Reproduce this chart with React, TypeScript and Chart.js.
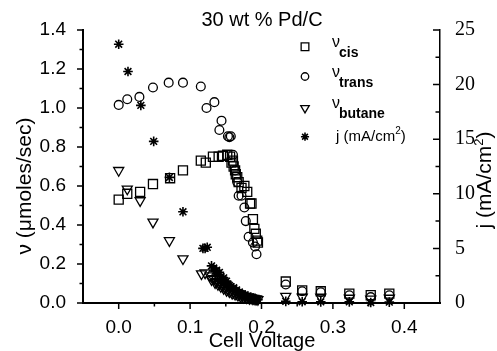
import { useEffect, useRef } from 'react';
import { Chart, registerables } from 'chart.js';
import { drawPoint } from 'chart.js/helpers';

Chart.register(...registerables);

// ---------- text ----------
const chartTitle = '30 wt % Pd/C';
const xAxisTitle = 'Cell Voltage';
const yAxisTitle = 'ν (μmoles/sec)';
const y1AxisTitleMain = 'j (mA/cm';
const y1AxisTitleSup = '2';
const y1AxisTitleEnd = ')';

// ---------- ticks ----------
const xTicks = [0, 0.1, 0.2, 0.3, 0.4];
const xMinorTicks = [0.05, 0.15, 0.25, 0.35];
const yTicks = [0, 0.2, 0.4, 0.6, 0.8, 1.0, 1.2, 1.4];
const yMinorTicks = [0.1, 0.3, 0.5, 0.7, 0.9, 1.1, 1.3];
const jTicks = [0, 5, 10, 15, 20, 25];
const jMinorTicks = [2.5, 7.5, 12.5, 17.5, 22.5];

// ---------- data ----------
const cisVoltage = [0.000, 0.012, 0.030, 0.048, 0.072, 0.090, 0.115, 0.122, 0.132, 0.140, 0.146, 0.152, 0.156, 0.158, 0.160, 0.161, 0.163, 0.164, 0.166, 0.168, 0.172, 0.176, 0.180, 0.184, 0.186, 0.188, 0.190, 0.192, 0.194, 0.195, 0.234, 0.257, 0.283, 0.323, 0.353, 0.379];
const cisRate = [0.53, 0.56, 0.57, 0.61, 0.64, 0.68, 0.73, 0.72, 0.75, 0.75, 0.755, 0.76, 0.75, 0.72, 0.73, 0.70, 0.68, 0.66, 0.645, 0.62, 0.59, 0.60, 0.57, 0.51, 0.51, 0.43, 0.38, 0.355, 0.32, 0.31, 0.11, 0.065, 0.06, 0.048, 0.04, 0.048];

const transVoltage = [0.000, 0.012, 0.029, 0.048, 0.070, 0.090, 0.115, 0.123, 0.134, 0.144, 0.141, 0.153, 0.155, 0.157, 0.160, 0.163, 0.166, 0.168, 0.172, 0.176, 0.178, 0.182, 0.188, 0.191, 0.193, 0.234, 0.257, 0.283, 0.323, 0.353, 0.379];
const transRate = [1.016, 1.045, 1.057, 1.105, 1.13, 1.13, 1.11, 1.00, 1.03, 0.935, 0.887, 0.855, 0.85, 0.855, 0.76, 0.68, 0.62, 0.55, 0.55, 0.49, 0.42, 0.34, 0.31, 0.29, 0.25, 0.095, 0.06, 0.055, 0.04, 0.03, 0.04];

const butaneVoltage = [0.000, 0.012, 0.030, 0.048, 0.071, 0.090, 0.116, 0.121, 0.128, 0.130, 0.133, 0.135, 0.137, 0.139, 0.141, 0.143, 0.145, 0.147, 0.149, 0.151, 0.153, 0.155, 0.157, 0.159, 0.161, 0.163, 0.165, 0.167, 0.169, 0.171, 0.173, 0.175, 0.177, 0.179, 0.181, 0.183, 0.185, 0.187, 0.189, 0.191, 0.193, 0.195, 0.234, 0.257, 0.283, 0.323, 0.353, 0.379];
const butaneRate = [0.68, 0.585, 0.525, 0.415, 0.32, 0.227, 0.15, 0.155, 0.14, 0.12, 0.125, 0.105, 0.11, 0.095, 0.10, 0.085, 0.09, 0.075, 0.08, 0.065, 0.07, 0.058, 0.062, 0.05, 0.055, 0.045, 0.048, 0.04, 0.042, 0.035, 0.038, 0.03, 0.033, 0.027, 0.03, 0.024, 0.027, 0.022, 0.024, 0.02, 0.021, 0.018, 0.035, 0.03, 0.03, 0.025, 0.02, 0.025];

const currentVoltage = [0.000, 0.013, 0.031, 0.049, 0.071, 0.090, 0.118, 0.121, 0.124, 0.130, 0.133, 0.135, 0.137, 0.139, 0.141, 0.143, 0.145, 0.147, 0.149, 0.151, 0.153, 0.155, 0.157, 0.159, 0.161, 0.163, 0.165, 0.167, 0.169, 0.171, 0.173, 0.175, 0.177, 0.179, 0.181, 0.183, 0.185, 0.187, 0.189, 0.191, 0.193, 0.195, 0.234, 0.257, 0.283, 0.323, 0.353, 0.379];
const currentDensity = [23.7, 21.2, 18.1, 14.8, 11.5, 8.35, 5.0, 5.0, 5.1, 3.4, 3.2, 2.9, 3.0, 2.6, 2.8, 2.4, 2.2, 2.3, 1.9, 2.0, 1.7, 1.6, 1.5, 1.3, 1.4, 1.1, 1.2, 0.95, 1.0, 0.85, 0.8, 0.7, 0.75, 0.6, 0.55, 0.5, 0.55, 0.45, 0.4, 0.42, 0.35, 0.3, 0.15, 0.12, 0.1, 0.1, 0.05, 0.08];

const SANS = "'Liberation Sans', Arial, Helvetica, sans-serif";
const SERIF = "'Liberation Serif', 'Times New Roman', serif";

const markers = [
  { pointStyle: 'rect', radius: 6.4, rotation: 0, width: 1.3 },
  { pointStyle: 'circle', radius: 4.4, rotation: 0, width: 1.3 },
  { pointStyle: 'triangle', radius: 5.8, rotation: 180, width: 1.3 },
  { pointStyle: 'star', radius: 4.8, rotation: 0, width: 1.6 },
];

const legendSubs = ['cis', 'trans', 'butane'];

const toPoints = (xs: number[], ys: number[]) => xs.map((x, i) => ({ x, y: ys[i] }));

const overlayPlugin = {
  id: 'overlay',
  afterDraw(chart: any) {
    const ctx: CanvasRenderingContext2D = chart.ctx;
    const xs = chart.scales.x;
    const ys = chart.scales.y;
    const js = chart.scales.y1;
    const area = chart.chartArea;
    ctx.save();
    ctx.strokeStyle = '#000';
    ctx.fillStyle = '#000';
    ctx.lineWidth = 1.5;
    ctx.beginPath();
    xTicks.forEach((v) => {
      const p = xs.getPixelForValue(v);
      ctx.moveTo(p, area.bottom); ctx.lineTo(p, area.bottom + 6);
    });
    xMinorTicks.forEach((v) => {
      const p = xs.getPixelForValue(v);
      ctx.moveTo(p, area.bottom); ctx.lineTo(p, area.bottom + 3.5);
    });
    yTicks.forEach((v) => {
      const p = ys.getPixelForValue(v);
      ctx.moveTo(area.left, p); ctx.lineTo(area.left - 6, p);
    });
    yMinorTicks.forEach((v) => {
      const p = ys.getPixelForValue(v);
      ctx.moveTo(area.left, p); ctx.lineTo(area.left - 3.5, p);
    });
    jTicks.forEach((v) => {
      const p = js.getPixelForValue(v);
      ctx.moveTo(area.right, p); ctx.lineTo(area.right - 7, p);
    });
    jMinorTicks.forEach((v) => {
      const p = js.getPixelForValue(v);
      ctx.moveTo(area.right, p); ctx.lineTo(area.right - 4.5, p);
    });
    ctx.stroke();

    // title
    ctx.textAlign = 'center';
    ctx.textBaseline = 'alphabetic';
    ctx.font = `20px ${SANS}`;
    ctx.fillText(chartTitle, 262, 26);

    // x axis title
    ctx.fillText(xAxisTitle, 262, 347);

    // left axis title
    ctx.save();
    ctx.translate(25, 186);
    ctx.rotate(-Math.PI / 2);
    ctx.font = `21px ${SANS}`;
    ctx.textBaseline = 'middle';
    ctx.fillText(yAxisTitle, 0, 0);
    ctx.restore();

    // right axis title with superscript
    ctx.save();
    ctx.translate(485, 180);
    ctx.rotate(-Math.PI / 2);
    ctx.textBaseline = 'middle';
    ctx.textAlign = 'left';
    ctx.font = `21px ${SANS}`;
    const wMain = ctx.measureText(y1AxisTitleMain).width;
    ctx.font = `13px ${SANS}`;
    const wSup = ctx.measureText(y1AxisTitleSup).width;
    ctx.font = `21px ${SANS}`;
    const wEnd = ctx.measureText(y1AxisTitleEnd).width;
    const total = wMain + wSup + wEnd;
    let cx = -total / 2;
    ctx.fillText(y1AxisTitleMain, cx, 0);
    cx += wMain;
    ctx.font = `13px ${SANS}`;
    ctx.fillText(y1AxisTitleSup, cx, -6);
    cx += wSup;
    ctx.font = `21px ${SANS}`;
    ctx.fillText(y1AxisTitleEnd, cx, 0);
    ctx.restore();

    // legend
    const legendRows = [46.7, 76.5, 108, 136.7];
    const markerX = 305;
    const textX = 332;
    chart.data.datasets.forEach((_ds: any, i: number) => {
      const yRow = legendRows[i];
      ctx.save();
      ctx.strokeStyle = '#000';
      ctx.fillStyle = 'rgba(0,0,0,0)';
      ctx.lineWidth = markers[i].width;
      drawPoint(ctx, { pointStyle: markers[i].pointStyle as any, radius: markers[i].radius * 0.85, rotation: markers[i].rotation, borderWidth: markers[i].width }, markerX, yRow);
      ctx.restore();
      ctx.fillStyle = '#000';
      ctx.textAlign = 'left';
      if (i < 3) {
        ctx.textBaseline = 'alphabetic';
        ctx.font = `16px ${SANS}`;
        ctx.fillText('ν', textX, yRow);
        const wNu = ctx.measureText('ν').width;
        ctx.font = `bold 14px ${SANS}`;
        ctx.fillText(legendSubs[i], textX + wNu - 1, yRow + 10);
      } else {
        ctx.textBaseline = 'middle';
        ctx.font = `15px ${SANS}`;
        const a = 'j (mA/cm';
        ctx.fillText(a, textX + 4, yRow);
        const wa = ctx.measureText(a).width;
        ctx.font = `10px ${SANS}`;
        ctx.fillText('2', textX + 4 + wa, yRow - 5);
        const w2 = ctx.measureText('2').width;
        ctx.font = `15px ${SANS}`;
        ctx.fillText(')', textX + 4 + wa + w2, yRow);
      }
    });
    ctx.restore();
  },
};

export default function App() {
  const canvasRef = useRef<HTMLCanvasElement | null>(null);

  useEffect(() => {
    if (!canvasRef.current) return;
    const common = {
      showLine: false,
      borderColor: '#000',
      backgroundColor: 'rgba(0,0,0,0)',
      pointBorderColor: '#000',
      pointBackgroundColor: 'rgba(0,0,0,0)',
      clip: false as const,
    };
    const chart = new Chart(canvasRef.current, {
      type: 'scatter',
      data: {
        datasets: [
          { ...common, label: 'cis', data: toPoints(cisVoltage, cisRate), yAxisID: 'y', pointStyle: 'rect', pointRadius: markers[0].radius, pointBorderWidth: markers[0].width },
          { ...common, label: 'trans', data: toPoints(transVoltage, transRate), yAxisID: 'y', pointStyle: 'circle', pointRadius: markers[1].radius, pointBorderWidth: markers[1].width },
          { ...common, label: 'butane', data: toPoints(butaneVoltage, butaneRate), yAxisID: 'y', pointStyle: 'triangle', pointRadius: markers[2].radius, pointRotation: 180, pointBorderWidth: markers[2].width },
          { ...common, label: 'j', data: toPoints(currentVoltage, currentDensity), yAxisID: 'y1', pointStyle: 'star', pointRadius: markers[3].radius, pointBorderWidth: markers[3].width },
        ] as any,
      },
      options: {
        responsive: false,
        maintainAspectRatio: false,
        animation: false,
        events: [],
        layout: { padding: { top: 30, left: 0, right: 0, bottom: 0 } },
        plugins: {
          legend: { display: false },
          title: { display: false },
          tooltip: { enabled: false },
        },
        scales: {
          x: {
            type: 'linear',
            position: 'bottom',
            min: -0.05,
            max: 0.45,
            grid: { display: false },
            border: { display: true, color: '#000', width: 2 },
            ticks: {
              color: '#000',
              font: { family: SANS, size: 19 },
              padding: 5,
              autoSkip: false,
              maxRotation: 0,
              callback: (v: any) => Number(v).toFixed(1),
            },
            afterBuildTicks: (s: any) => { s.ticks = xTicks.map((value) => ({ value })); },
            afterFit: (s: any) => { s.height = 48; },
          },
          y: {
            type: 'linear',
            position: 'left',
            min: 0,
            max: 1.4,
            grid: { display: false },
            border: { display: true, color: '#000', width: 2 },
            ticks: {
              color: '#000',
              font: { family: SANS, size: 19 },
              padding: 9,
              autoSkip: false,
              callback: (v: any) => Number(v).toFixed(1),
            },
            afterBuildTicks: (s: any) => { s.ticks = yTicks.map((value) => ({ value })); },
            afterFit: (s: any) => { s.width = 83; },
          },
          y1: {
            type: 'linear',
            position: 'right',
            min: 0,
            max: 25,
            grid: { display: false },
            border: { display: true, color: '#000', width: 1.5 },
            ticks: {
              color: '#000',
              font: { family: SERIF, size: 20 },
              padding: 7,
              autoSkip: false,
              callback: (v: any) => String(v),
            },
            afterBuildTicks: (s: any) => { s.ticks = jTicks.map((value) => ({ value })); },
            afterFit: (s: any) => { s.width = 57; },
          },
        },
      } as any,
      plugins: [overlayPlugin],
    });
    return () => chart.destroy();
  }, []);

  return (
    <div style={{ position: 'fixed', left: 0, top: 0, width: 497, height: 351, background: '#fff' }}>
      <canvas ref={canvasRef} width={497} height={351} style={{ display: 'block' }} />
    </div>
  );
}
